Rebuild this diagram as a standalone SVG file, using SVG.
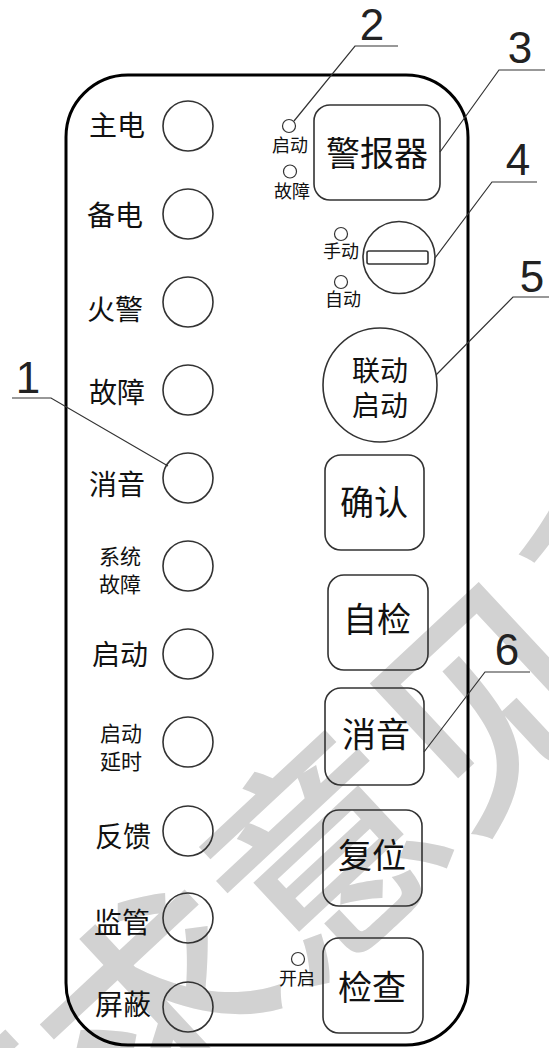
<svg xmlns="http://www.w3.org/2000/svg" width="549" height="1048" viewBox="0 0 549 1048">
<style>
.wm{font-family:"Noto Sans CJK SC",sans-serif;font-weight:500;font-size:225px;fill:#d2d2d2}
.frame{fill:none;stroke:#000;stroke-width:3}
.led{fill:none;stroke:#333;stroke-width:1.6}
.sled{fill:none;stroke:#333;stroke-width:1.2}
.btn{fill:none;stroke:#333;stroke-width:1.6}
.lead{fill:none;stroke:#333;stroke-width:1.2}
.t28{font-family:"Noto Sans CJK SC",sans-serif;font-size:28px;fill:#111;text-anchor:middle}
.t22{font-family:"Noto Sans CJK SC",sans-serif;font-size:21px;fill:#111;text-anchor:middle}
.t34{font-family:"Noto Sans CJK SC",sans-serif;font-size:34px;fill:#111;text-anchor:middle}
.t18{font-family:"Noto Sans CJK SC",sans-serif;font-size:18px;fill:#111;text-anchor:middle}
.num{font-family:"Liberation Sans",Arial,sans-serif;font-size:44px;fill:#222;text-anchor:middle}
</style>
<g id="watermark">
<text class="wm" transform="translate(-30,1300) rotate(-43)" x="0" y="0">征求意见稿</text>
</g>
<g id="panel">
<rect class="frame" x="66" y="75" width="402" height="970" rx="62" ry="62"/>
</g>
<g id="indicators">
<g id="ind-zhudian"><circle class="led" cx="188" cy="126" r="25"/><text class="t28" x="117" y="136">主电</text></g>
<g id="ind-beidian"><circle class="led" cx="188" cy="214" r="25"/><text class="t28" x="115" y="226">备电</text></g>
<g id="ind-huojing"><circle class="led" cx="188" cy="302" r="25"/><text class="t28" x="115" y="320">火警</text></g>
<g id="ind-guzhang"><circle class="led" cx="188" cy="390" r="25"/><text class="t28" x="117" y="403">故障</text></g>
<g id="ind-xiaoyin"><circle class="led" cx="188" cy="478" r="25"/><text class="t28" x="117" y="495">消音</text></g>
<g id="ind-xitongguzhang"><circle class="led" cx="188" cy="566" r="25"/><text class="t22" x="120" y="564">系统</text><text class="t22" x="120" y="592">故障</text></g>
<g id="ind-qidong"><circle class="led" cx="188" cy="654" r="25"/><text class="t28" x="120" y="665">启动</text></g>
<g id="ind-qidongyanshi"><circle class="led" cx="188" cy="742" r="25"/><text class="t22" x="121" y="741">启动</text><text class="t22" x="121" y="769">延时</text></g>
<g id="ind-fankui"><circle class="led" cx="188" cy="831" r="25"/><text class="t28" x="123" y="847">反馈</text></g>
<g id="ind-jianguan"><circle class="led" cx="188" cy="918" r="25"/><text class="t28" x="122" y="933">监管</text></g>
<g id="ind-pingbi"><circle class="led" cx="188" cy="1007" r="25"/><text class="t28" x="123" y="1015">屏蔽</text></g>
</g>
<g id="alarm">
<circle class="sled" cx="289" cy="126" r="6.5"/><text class="t18" x="290" y="152">启动</text>
<circle class="sled" cx="290" cy="171.5" r="6.5"/><text class="t18" x="292" y="198">故障</text>
<rect class="btn" x="314" y="105" width="126" height="95" rx="16" ry="16"/>
<text class="t34" x="377" y="166">警报器</text>
</g>
<g id="keyswitch">
<circle class="sled" cx="341" cy="234" r="6.5"/><text class="t18" x="341" y="258">手动</text>
<circle class="sled" cx="341" cy="282" r="6.5"/><text class="t18" x="343" y="306">自动</text>
<circle class="btn" cx="399" cy="257.5" r="36"/>
<rect class="btn" x="367" y="251" width="61" height="13" rx="2" ry="2"/>
</g>
<g id="btn-liandong">
<circle class="btn" cx="380" cy="385" r="57"/>
<text class="t28" x="380" y="381">联动</text>
<text class="t28" x="380" y="416">启动</text>
</g>
<g id="btn-queren"><rect class="btn" x="325" y="455" width="99" height="95" rx="16" ry="16"/><text class="t34" x="374" y="515">确认</text></g>
<g id="btn-zijian"><rect class="btn" x="328" y="575" width="100" height="95" rx="16" ry="16"/><text class="t34" x="377" y="632">自检</text></g>
<g id="btn-xiaoyin"><rect class="btn" x="325" y="688" width="99" height="97" rx="16" ry="16"/><text class="t34" x="376" y="747">消音</text></g>
<g id="btn-fuwei"><rect class="btn" x="323" y="810" width="99" height="96" rx="16" ry="16"/><text class="t34" x="372" y="868">复位</text></g>
<g id="btn-jiancha">
<circle class="sled" cx="298" cy="959" r="6.5"/><text class="t18" x="297" y="985">开启</text>
<rect class="btn" x="323" y="938" width="100" height="95" rx="16" ry="16"/><text class="t34" x="372" y="1000">检查</text>
</g>
<g id="connectors">
<polyline class="lead" points="168,466 51,398 12,398"/>
<polyline class="lead" points="294,121 355,46 398,46"/>
<polyline class="lead" points="440,152 499,70 545,70"/>
<polyline class="lead" points="435,258 492,182 537,182"/>
<polyline class="lead" points="436,375 513,297 549,297"/>
<polyline class="lead" points="424,752 485,672 530,672"/>
</g>
<g id="callouts">
<text class="num" x="28" y="393">1</text>
<text class="num" x="372" y="40">2</text>
<text class="num" x="520" y="63">3</text>
<text class="num" x="518" y="175">4</text>
<text class="num" x="532" y="292">5</text>
<text class="num" x="507" y="665">6</text>
</g>
</svg>
